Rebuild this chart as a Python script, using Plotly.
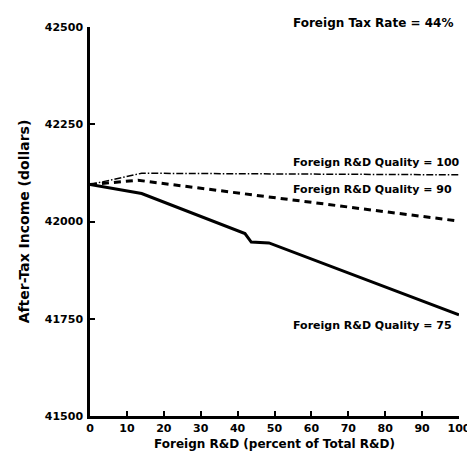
import plotly.graph_objects as go

# Data
x_q100 = [0, 14, 100]
y_q100 = [42095, 42124, 42120]

x_q90 = [0, 13, 100]
y_q90 = [42095, 42106, 42001]

x_q75 = [0, 14, 42, 43.7, 48.5, 100]
y_q75 = [42095, 42072, 41969, 41947, 41945, 41760]

x_ticks = [0, 10, 20, 30, 40, 50, 60, 70, 80, 90, 100]
y_ticks = [41500, 41750, 42000, 42250, 42500]

labels = ["Foreign R&D Quality = 100", "Foreign R&D Quality = 90", "Foreign R&D Quality = 75"]
label_y = [42152, 42082, 41733]
title_note = "Foreign Tax Rate = 44%"

FONT = "DejaVu Sans"

fig = go.Figure()
fig.add_trace(go.Scatter(x=x_q100, y=y_q100, mode="lines",
                         line=dict(color="black", width=1.5, dash="7px,2px,1.5px,2px")))
fig.add_trace(go.Scatter(x=x_q90, y=y_q90, mode="lines",
                         line=dict(color="black", width=3, dash="7px,5px")))
fig.add_trace(go.Scatter(x=x_q75, y=y_q75, mode="lines",
                         line=dict(color="black", width=3)))

for txt, yy in zip(labels, label_y):
    fig.add_annotation(x=54.5, y=yy, xref="x", yref="y", text=txt, showarrow=False,
                       xanchor="left", yanchor="middle",
                       font=dict(family=FONT, size=11, color="black", weight="bold"))

fig.add_annotation(x=54.5, y=1.011, xref="x", yref="paper", text=title_note, showarrow=False,
                   xanchor="left", yanchor="middle",
                   font=dict(family=FONT, size=12, color="black", weight="bold"))

fig.update_layout(
    width=475, height=453,
    margin=dict(l=82, r=12, t=19, b=45),
    paper_bgcolor="white", plot_bgcolor="white",
    showlegend=False,
    font=dict(family=FONT, color="black", size=11, weight="bold"),
)
fig.update_xaxes(
    range=[0, 100], tickvals=x_ticks, ticktext=[str(v) for v in x_ticks],
    showgrid=False, zeroline=False, showline=True, linecolor="black", linewidth=2.5,
    ticks="inside", ticklen=5, tickwidth=2, tickcolor="black",
    ticklabeloverflow="allow",
    tickfont=dict(family=FONT, size=11, color="black", weight="bold"),
    title=dict(text="Foreign R&D (percent of Total R&D)", standoff=6,
               font=dict(family=FONT, size=12, color="black", weight="bold")),
)
fig.update_yaxes(
    range=[41500, 42500], tickvals=y_ticks, ticktext=[str(v) for v in y_ticks],
    showgrid=False, zeroline=False, showline=True, linecolor="black", linewidth=2.5,
    ticks="inside", ticklen=5, tickwidth=2, tickcolor="black", ticklabelstandoff=2,
    tickfont=dict(family=FONT, size=11, color="black", weight="bold"),
    title=dict(text="After-Tax Income (dollars)", standoff=12,
               font=dict(family=FONT, size=14, color="black", weight="bold")),
)

fig.write_html("out.html")
